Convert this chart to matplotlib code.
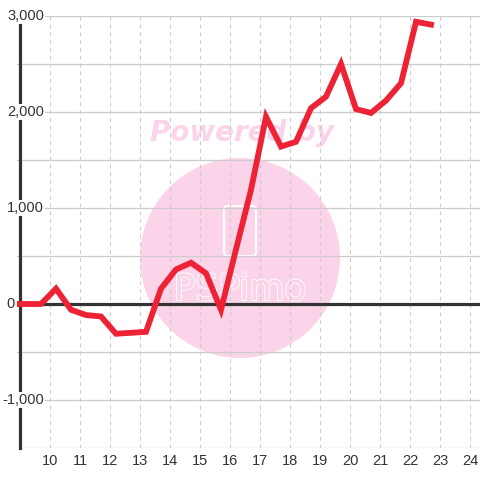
import matplotlib
matplotlib.use("Agg")
import matplotlib.pyplot as plt
import matplotlib.transforms as mtransforms
from matplotlib.patches import Ellipse, FancyBboxPatch
import matplotlib.patheffects as pe

# hourly values
hours = [8.7, 9.2, 9.7, 10.2, 10.7, 11.2, 11.7, 12.2, 12.7, 13.2, 13.7, 14.2, 14.7,
         15.2, 15.7, 16.2, 16.7, 17.2, 17.7, 18.2, 18.7, 19.2, 19.7, 20.2, 20.7,
         21.2, 21.7, 22.2, 22.7]
values = [0, 0, 0, 160, -60, -115, -130, -310, -300, -290, 160, 360, 430,
          320, -60, 570, 1190, 1950, 1640, 1690, 2040, 2160, 2500, 2030, 1990,
          2120, 2300, 2940, 2910]

x_ticks = list(range(10, 25))
y_labels = [3000, 2000, 1000, 0, -1000]

TEXT = "#333333"
GRID = "#cccccc"
PINK = "#fbd4ea"
RED = "#ee2235"

fig = plt.figure(figsize=(4.8, 4.8), dpi=100)
ax = fig.add_axes([17 / 480, 32 / 480, 463 / 480, 432 / 480])
ax.set_xlim(8.9, 24.333)
ax.set_ylim(-1500, 3000)
ax.set_axisbelow(True)

# grid: solid horizontal every 500, dashed vertical every hour
for y in range(-1500, 3001, 500):
    ax.axhline(y, color=GRID, lw=0.9, zorder=0.5)
for x in x_ticks:
    ax.axvline(x, color=GRID, lw=0.8, ls=(0, (3.5, 3.5)), zorder=0.5)

# watermark
ax.add_artist(Ellipse((240 / 480, 222 / 480), 200 / 480, 200 / 480,
                      transform=fig.transFigure, fc=PINK, ec="none", zorder=0.2))
ax.add_artist(FancyBboxPatch((224 / 480, 224 / 480), 32 / 480, 50 / 480,
                             boxstyle="round,pad=0,rounding_size=0.008",
                             transform=fig.transFigure, fc="none", ec="white",
                             lw=1.5, zorder=0.3))
ax.text(240 / 480, 190 / 480, "PSPimo", transform=fig.transFigure, ha="center",
        va="center", fontsize=26, color=PINK, zorder=0.3,
        path_effects=[pe.withStroke(linewidth=1.5, foreground="white"), pe.Normal()])
ax.text(242 / 480, 347 / 480, "Powered by", transform=fig.transFigure, ha="center",
        va="center", fontsize=20, fontweight="bold", fontstyle="italic",
        color=PINK, zorder=0.3)

# zero line
ax.axhline(0, color=TEXT, lw=2.3, zorder=1)

ax.plot(hours, values, color=RED, lw=4.2, solid_joinstyle="miter",
        solid_capstyle="projecting", zorder=3)

for side in ["top", "right", "bottom"]:
    ax.spines[side].set_visible(False)
ax.spines["left"].set_position(("data", 9.0))
ax.spines["left"].set_color(TEXT)
ax.spines["left"].set_linewidth(2.3)

ax.set_xticks(x_ticks)
ax.set_xticklabels([str(x) for x in x_ticks])
ax.tick_params(axis="x", length=0, pad=4, labelsize=10.5, labelcolor=TEXT)
ax.set_yticks([])

# y labels sit on top of the spine with a white background
trans = mtransforms.blended_transform_factory(fig.transFigure, ax.transData)
for v in y_labels:
    xpos = 15 / 480 if v == 0 else 44 / 480
    ax.text(xpos, v, f"{v:,}", transform=trans, ha="right", va="center",
            fontsize=10.5, color=TEXT, zorder=6, clip_on=False,
            bbox=dict(boxstyle="square,pad=0.05", fc="white", ec="none"))

plt.rcParams["font.family"] = ["Liberation Sans", "DejaVu Sans"]
for lbl in ax.get_xticklabels():
    lbl.set_fontfamily(["Liberation Sans", "DejaVu Sans"])
for t in ax.texts:
    if t.get_text()[-1].isdigit():
        t.set_fontfamily(["Liberation Sans", "DejaVu Sans"])

fig.savefig("out.png", dpi=100, facecolor="white")
